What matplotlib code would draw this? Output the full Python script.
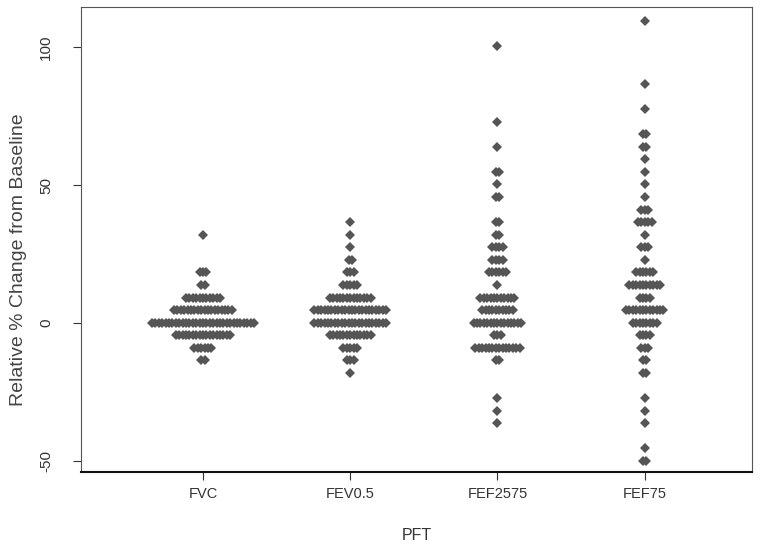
import numpy as np
import matplotlib
matplotlib.use("Agg")
import matplotlib.pyplot as plt

plt.rcParams["font.family"] = ["Liberation Sans", "DejaVu Sans"]

CATEGORIES = ["FVC", "FEV0.5", "FEF2575", "FEF75"]

# row values (relative % change) and number of dots in each row
FVC_Y = [32.0, 18.4, 13.8, 9.2, 4.7, 0.1, -4.4, -9.0, -13.5]
FVC_N = [1, 3, 2, 11, 18, 31, 17, 6, 2]

FEV_Y = [36.6, 32.0, 27.5, 22.9, 18.4, 13.8, 9.2, 4.7, 0.1, -4.4, -9.0, -13.5, -18.1]
FEV_N = [1, 1, 1, 2, 3, 5, 13, 22, 22, 13, 5, 3, 1]

FEF2575_Y = [100.4, 73.0, 63.9, 54.8, 50.3, 45.7, 36.6, 32.0, 27.5, 22.9, 18.4,
             13.8, 9.2, 4.7, 0.1, -4.4, -9.0, -13.5, -27.2, -31.8, -36.3]
FEF2575_N = [1, 1, 1, 2, 1, 2, 2, 2, 4, 4, 6, 1, 11, 10, 15, 3, 14, 2, 1, 1, 1]

FEF75_Y = [109.5, 86.7, 77.6, 68.5, 63.9, 59.4, 54.8, 50.3, 45.7, 41.1, 36.6,
           32.0, 27.5, 22.9, 18.4, 13.8, 9.2, 4.7, 0.1, -4.4, -9.0, -13.5,
           -18.1, -27.2, -31.8, -36.3, -45.4, -50.0]
FEF75_N = [1, 1, 1, 2, 2, 1, 1, 1, 1, 3, 5, 1, 3, 1, 6, 10, 4, 12, 8, 4, 3, 2,
           2, 1, 1, 1, 1, 2]

GROUPS = [(FVC_Y, FVC_N), (FEV_Y, FEV_N), (FEF2575_Y, FEF2575_N), (FEF75_Y, FEF75_N)]

DOT_STEP = 0.0231
DOT_COLOR = "#555555"

fig = plt.figure(figsize=(7.6, 5.53), dpi=100)
ax = fig.add_axes([0.1066, 0.1465, 0.8824, 0.8405])

for i, (ys, ns) in enumerate(GROUPS):
    xs_all, ys_all = [], []
    for y, n in zip(ys, ns):
        offs = (np.arange(n) - (n - 1) / 2) * DOT_STEP
        xs_all.extend(i + 1 + offs)
        ys_all.extend([y] * n)
    ax.plot(xs_all, ys_all, linestyle="none", marker="D", markersize=5.0,
            color=DOT_COLOR, markeredgewidth=0)

ax.set_xlim(0.172, 4.726)
ax.set_ylim(-54.0, 114.5)

ax.set_xticks(range(1, 5))
ax.set_xticklabels(CATEGORIES, fontsize=10.5)
ax.set_yticks([-50, 0, 50, 100])
ax.set_yticklabels(["-50", "0", "50", "100"], fontsize=11, rotation=90, va="center")

ax.tick_params(axis="both", direction="out", length=6, width=0.8, colors="#333333")
ax.tick_params(axis="x", pad=5)
ax.tick_params(axis="y", pad=14)

ax.set_xlabel("PFT", fontsize=11.5, labelpad=19.5, color="#333333")
ax.set_ylabel("Relative % Change from Baseline", fontsize=14, color="#444444")
ax.yaxis.set_label_coords(-0.081, 0.457)

for side in ["left", "top", "right"]:
    ax.spines[side].set_linewidth(0.8)
    ax.spines[side].set_color("#555555")
ax.spines["bottom"].set_linewidth(1.5)
ax.spines["bottom"].set_color("#111111")

fig.savefig("out.png", dpi=100, facecolor="white")
